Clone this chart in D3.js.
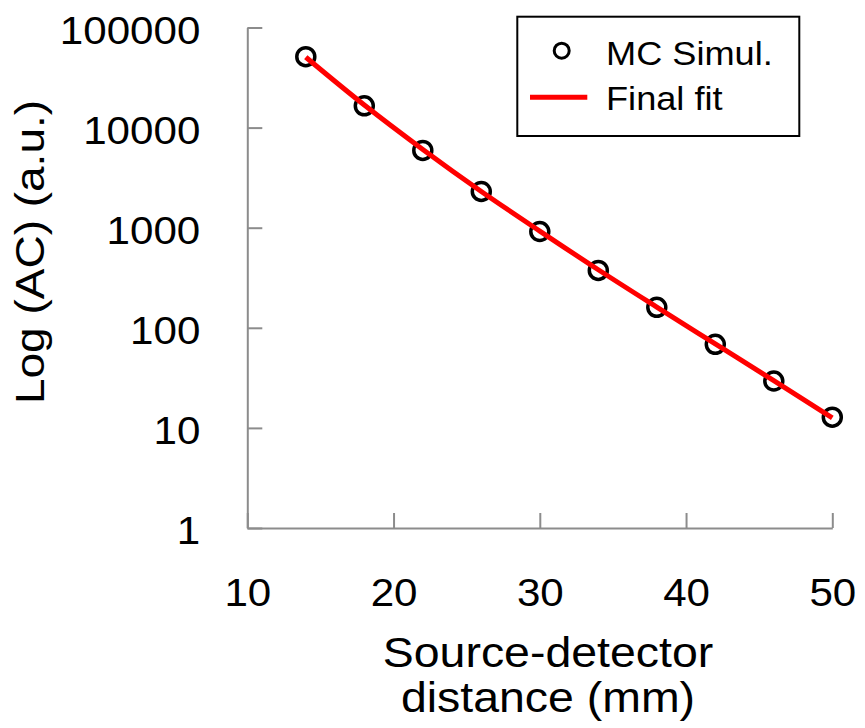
<!DOCTYPE html>
<html>
<head>
<meta charset="utf-8">
<script src="https://cdn.jsdelivr.net/npm/d3@7"></script>
<style>
  body { margin: 0; background: #fff; }
  text { font-family: "Liberation Sans", Arial, sans-serif; fill: #000; }
</style>
</head>
<body>
<div id="chart"></div>
<script>
// distance (mm)
const distance = [14, 18, 22, 26, 30, 34, 38, 42, 46, 50];
// MC simulation, AC amplitude (a.u.)
const mcSimul = [51100, 16500, 5910, 2300, 916, 374, 160, 68.3, 29.4, 12.8];
// fitted curve at the same distances
const finalFit = [50500, 16800, 6050, 2300, 925, 380, 161, 69, 29.6, 12.6];

const xTicks = [10, 20, 30, 40, 50];
const yTicks = [1, 10, 100, 1000, 10000, 100000];

const sx = 1.08; // text in the picture is a bit wider than Arial

var svg = d3.select("#chart")
    .append("svg")
    .attr("width", 865)
    .attr("height", 728);

var x = d3.scaleLinear()
    .domain([10, 50])
    .range([247.3, 832.3]);

var y = d3.scaleLog()
    .domain([1, 100000])
    .range([528, 27.5]);

const axisColor = "#8c8c8c";

// X axis
var gx = svg.append("g")
    .attr("transform", "translate(0," + y(1) + ")")
    .call(d3.axisBottom(x).tickValues(xTicks).tickSize(-15).tickSizeOuter(0).tickPadding(0));
gx.selectAll("text")
    .attr("y", 0).attr("dy", null)
    .attr("transform", "translate(0,78) scale(" + sx + ",1)")
    .style("font-size", "39px");

// Y axis
var gy = svg.append("g")
    .attr("transform", "translate(" + x(10) + ",0)")
    .call(d3.axisLeft(y).tickValues(yTicks).tickFormat(d3.format("d")).tickSize(-15).tickSizeOuter(0).tickPadding(0));
gy.selectAll("text")
    .attr("x", 0).attr("dy", "0.4em")
    .attr("transform", "translate(-47,0) scale(" + sx + ",1)")
    .style("font-size", "39px");

svg.selectAll(".domain, .tick line")
    .attr("stroke", axisColor)
    .attr("stroke-width", 2);
svg.selectAll(".tick text").attr("fill", "#000").style("font-family", "'Liberation Sans', Arial, sans-serif");

// axis titles
svg.append("text")
    .attr("transform", "translate(548,667) scale(" + sx + ",1)")
    .attr("text-anchor", "middle")
    .style("font-size", "43px")
    .text("Source-detector");
svg.append("text")
    .attr("transform", "translate(548,712) scale(" + sx + ",1)")
    .attr("text-anchor", "middle")
    .style("font-size", "43px")
    .text("distance (mm)");

svg.append("text")
    .attr("transform", "translate(44,252) scale(0.9,1) rotate(-90)")
    .attr("text-anchor", "middle")
    .style("font-size", "46px")
    .text("Log (AC) (a.u.)");

// points
svg.selectAll("circle.pt")
    .data(distance)
    .enter()
    .append("circle")
    .attr("class", "pt")
    .attr("cx", function (d) { return x(d); })
    .attr("cy", function (d, i) { return y(mcSimul[i]); })
    .attr("r", 9)
    .attr("fill", "none")
    .attr("stroke", "#000")
    .attr("stroke-width", 3.5);

// fit line
var line = d3.line()
    .x(function (d) { return x(d[0]); })
    .y(function (d) { return y(d[1]); })
    .curve(d3.curveMonotoneX);

svg.append("path")
    .datum(d3.zip(distance, finalFit))
    .attr("d", line)
    .attr("fill", "none")
    .attr("stroke", "#ff0000")
    .attr("stroke-width", 5);

// legend
var lg = svg.append("g");
lg.append("rect")
    .attr("x", 517.3).attr("y", 16.7)
    .attr("width", 282).attr("height", 119.3)
    .attr("fill", "#fff")
    .attr("stroke", "#000")
    .attr("stroke-width", 2);
lg.append("circle")
    .attr("cx", 561.7).attr("cy", 50.7)
    .attr("r", 7.5)
    .attr("fill", "none")
    .attr("stroke", "#000")
    .attr("stroke-width", 3);
lg.append("line")
    .attr("x1", 530).attr("x2", 587.3)
    .attr("y1", 97.3).attr("y2", 97.3)
    .attr("stroke", "#ff0000")
    .attr("stroke-width", 5);
lg.append("text")
    .attr("transform", "translate(606,65) scale(" + sx + ",1)")
    .style("font-size", "33.5px")
    .text("MC Simul.");
lg.append("text")
    .attr("transform", "translate(606,110) scale(" + sx + ",1)")
    .style("font-size", "33.5px")
    .text("Final fit");
</script>
</body>
</html>
